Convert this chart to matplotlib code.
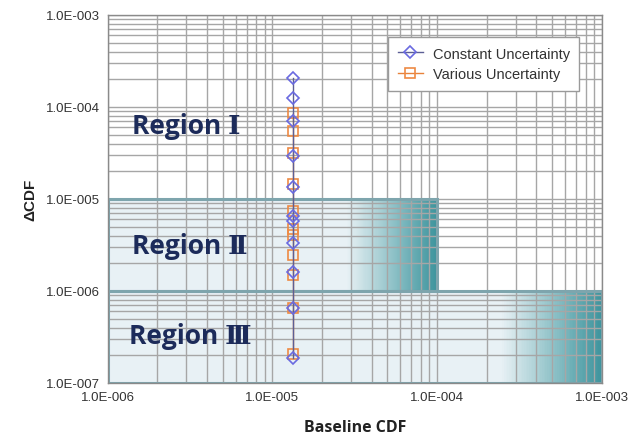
import numpy as np
import matplotlib
matplotlib.use("Agg")
import matplotlib.pyplot as plt
from matplotlib.colors import LinearSegmentedColormap
from matplotlib.patches import Rectangle

# ---- data ----
baseline_cdf = 1.34e-5
constant_delta = [2.07e-4, 1.25e-4, 7.0e-5, 2.9e-5, 1.35e-5, 6.5e-6, 5.8e-6,
                  3.3e-6, 1.6e-6, 6.5e-7, 1.85e-7]
various_delta = [8.6e-5, 5.5e-5, 3.2e-5, 1.45e-5, 7.4e-6, 4.7e-6, 4.1e-6,
                 2.45e-6, 1.5e-6, 6.5e-7, 2.05e-7]
series_names = ["Constant Uncertainty", "Various Uncertainty"]
x_ticks = [1e-6, 1e-5, 1e-4, 1e-3]
y_ticks = [1e-7, 1e-6, 1e-5, 1e-4, 1e-3]
tick_labels_x = ["1.0E-006", "1.0E-005", "1.0E-004", "1.0E-003"]
tick_labels_y = ["1.0E-007", "1.0E-006", "1.0E-005", "1.0E-004", "1.0E-003"]
# regions: (x_min, x_max, y_min, y_max, gradient start)
region2 = (1e-6, 1e-4, 1e-6, 1e-5, 2.8e-5)
region3 = (1e-6, 1e-3, 1e-7, 1e-6, 2.45e-4)
region_labels = ["Region Ⅰ", "Region Ⅱ", "Region Ⅲ"]
region_label_pos = [(1.4e-6, 6.3e-5), (1.4e-6, 3.1e-6), (1.35e-6, 3.3e-7)]

fig = plt.figure(figsize=(6.42, 4.39), dpi=100)
ax = fig.add_axes([0.168, 0.1253, 0.769, 0.8383])
ax.set_xscale("log")
ax.set_yscale("log")
ax.set_xlim(1e-6, 1e-3)
ax.set_ylim(1e-7, 1e-3)

pale = "#e8f1f5"
teal = "#3e949d"
cmap = LinearSegmentedColormap.from_list("reg", [pale, "#b0d3d8", "#74b3ba", teal])

def draw_region(r):
    x0, x1, y0, y1, g0 = r
    xe = np.logspace(np.log10(x0), np.log10(x1), 300)
    xc = np.sqrt(xe[:-1] * xe[1:])
    t = np.clip((np.log10(xc) - np.log10(g0)) / (np.log10(x1) - np.log10(g0)), 0, 1)
    ax.pcolormesh(xe, [y0, y1], t[None, :], cmap=cmap, vmin=0, vmax=1,
                  shading="flat", zorder=0.2)
    ax.add_patch(Rectangle((x0, y0), x1 - x0, y1 - y0, fill=False,
                           edgecolor="#7ea5ad", lw=2.2, zorder=0.8))

draw_region(region2)
draw_region(region3)

ax.set_axisbelow(True)
ax.grid(True, which="major", color="#a6a6a6", lw=1.0)
ax.grid(True, which="minor", color="#a6a6a6", lw=1.0)
ax.tick_params(which="both", length=0)
ax.set_xticks(x_ticks)
ax.set_xticklabels(tick_labels_x, fontsize=9.5, family="Liberation Sans", color="#333333")
ax.set_yticks(y_ticks)
ax.set_yticklabels(tick_labels_y, fontsize=9.5, family="Liberation Sans", color="#333333")
ax.tick_params(axis="x", pad=6)
ax.tick_params(axis="y", pad=6)
for s in ax.spines.values():
    s.set_color("#8a8a8a")
    s.set_linewidth(1.0)

xs_c = [baseline_cdf] * len(constant_delta)
xs_v = [baseline_cdf] * len(various_delta)
ax.plot(xs_v, various_delta, color="#e8823a", lw=1.0, marker="s", ms=6.5,
        mfc="none", mec="#ee8a44", mew=1.2, label=series_names[1], zorder=3)
ax.plot(xs_c, constant_delta, color="#5c5f95", lw=1.0, marker="D", ms=6,
        mfc="none", mec="#6a6ae0", mew=1.2, label=series_names[0], zorder=4)

for lab, (lx, ly) in zip(region_labels, region_label_pos):
    ax.text(lx, ly, lab, fontsize=19, fontweight="bold", color="#1c2b5a",
            family=["Open Sans", "DejaVu Serif"], va="center", ha="left", zorder=5)

h, l = ax.get_legend_handles_labels()
leg = ax.legend(h[::-1], l[::-1], loc="upper right", bbox_to_anchor=(0.955, 0.94),
                borderaxespad=0, fancybox=False, framealpha=1, edgecolor="#9a9a9a",
                prop={"family": "Liberation Sans", "size": 10.5}, borderpad=0.65,
                handlelength=1.7, handletextpad=0.7, labelspacing=0.45)
leg.get_frame().set_linewidth(1.0)
for t in leg.get_texts():
    t.set_color("#333333")

ax.set_xlabel("Baseline CDF", fontsize=11.5, fontweight="bold", family="Open Sans",
              color="#222222", labelpad=11)
ax.set_ylabel("ΔCDF", fontsize=11, fontweight="bold", family="Liberation Sans",
              color="#222222", labelpad=6)

fig.savefig("out.png", dpi=100)
